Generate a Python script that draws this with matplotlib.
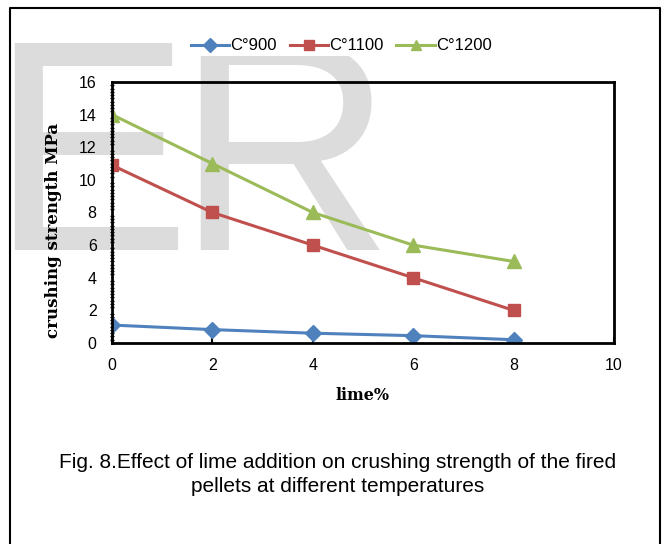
#crushing strength of fired pellets vs lime addition, three firing temperatures
import matplotlib
matplotlib.use("Agg")
import matplotlib.pyplot as plt
from matplotlib.lines import Line2D

# data
lime = [0, 2, 4, 6, 8]
t900 = [1.1, 0.82, 0.6, 0.45, 0.2]
t1100 = [10.9, 8.0, 6.0, 4.0, 2.0]
t1200 = [14.0, 11.0, 8.0, 6.0, 5.0]
labels = ["C°900", "C°1100", "C°1200"]
xticks = [0, 2, 4, 6, 8, 10]
yticks = [0, 2, 4, 6, 8, 10, 12, 14, 16]

W, H = 665, 544
fig = plt.figure(figsize=(W / 100, H / 100), dpi=100)
fig.patch.set_facecolor("white")

#watermark letters behind everything
wm = dict(fontsize=217, color="#dcdcdc", family="Liberation Sans",
          va="baseline", ha="left", zorder=-5)
fig.text(-0.016, 1 - 250 / H, "E", **wm)
fig.text(0.264, 1 - 250 / H, "R", **wm)

#outer frame (open at the bottom)
fx0, fx1, fy = 10 / W, 660 / W, 1 - 8 / H
fig.add_artist(Line2D([fx0, fx0, fx1, fx1], [0, fy, fy, 0],
                      transform=fig.transFigure, color="black", lw=1.5))

ax = fig.add_axes([112 / W, 1 - 343 / H, 502 / W, 261 / H])
ax.set_facecolor("none")

ax.plot(lime, t900, color="#4F81BD", marker="D", markersize=8.5, lw=2.2, label=labels[0])
ax.plot(lime, t1100, color="#C0504D", marker="s", markersize=9, lw=2.2, label=labels[1])
ax.plot(lime, t1200, color="#9BBB59", marker="^", markersize=9.5, lw=2.2, label=labels[2])

ax.set_xlim(0, 10)
ax.set_ylim(0, 16)
ax.set_xticks(xticks)
ax.set_yticks(yticks)
ax.set_xticklabels([str(v) for v in xticks], family="Liberation Sans", fontsize=11.5)
ax.set_yticklabels([str(v) for v in yticks], family="Liberation Sans", fontsize=11.5)
ax.tick_params(axis="x", direction="in", length=4, width=1.5, pad=11)
ax.tick_params(axis="y", direction="in", length=0, pad=11)
ax.set_yticks([v / 5 for v in range(81)], minor=True)
ax.tick_params(axis="y", which="minor", direction="inout", length=3, width=1)
for s in ax.spines.values():
    s.set_linewidth(2)

ax.set_xlabel("lime%", family="DejaVu Serif", fontweight="bold", fontsize=11.5, labelpad=10)
ax.set_ylabel("crushing strength MPa", family="DejaVu Serif", fontweight="bold", fontsize=12)
ax.yaxis.set_label_coords(-0.1, 0.433)

leg = fig.legend(loc="center", bbox_to_anchor=(341 / W, 1 - 46 / H), ncol=3, frameon=True,
                 facecolor="white", edgecolor="none", framealpha=1, borderpad=0.15,
                 prop={"family": "Liberation Sans", "size": 12}, handlelength=2.3,
                 handletextpad=0.05, columnspacing=0.8, markerscale=0.8, fancybox=False)

fig.text(338 / W, 1 - 474.5 / H,
         "Fig. 8.Effect of lime addition on crushing strength of the fired\n"
         "pellets at different temperatures",
         ha="center", va="center", family="Liberation Sans", fontsize=15, linespacing=1.32)

fig.savefig("out.png", dpi=100)
